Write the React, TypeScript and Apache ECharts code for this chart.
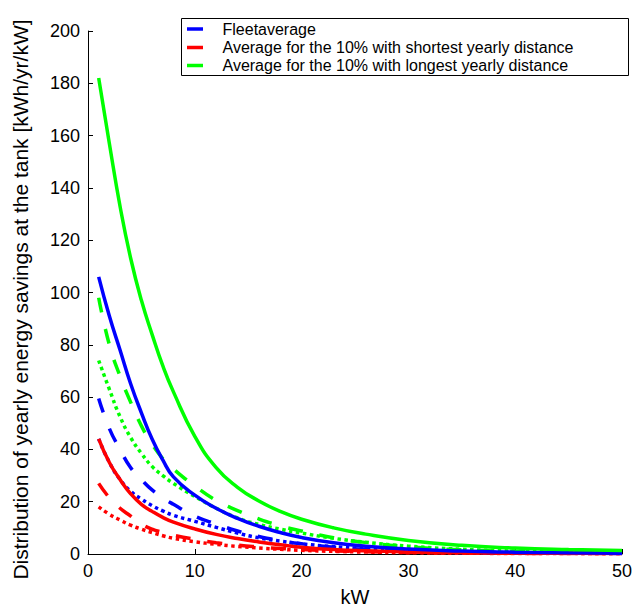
import React, { useEffect, useRef } from "react";
import * as echarts from "echarts";

const xs = [1, 2, 3, 4, 5, 6, 7, 8, 10, 12, 14, 16, 18, 20, 23, 26, 30, 35, 40, 45, 50];

const fleetSolid = [106, 91, 78, 65, 54, 44, 36, 29.5, 22.5, 17.5, 13.6, 10.6, 8.2, 6.3, 4.3, 3.0, 1.9, 1.1, 0.7, 0.45, 0.3];
const fleetDashed = [59.5, 48, 40, 33, 28.5, 24.5, 21.5, 19, 14.5, 11.5, 8.8, 6.7, 5.1, 3.9, 2.6, 1.8, 1.1, 0.6, 0.4, 0.3, 0.2];
const fleetDotted = [44, 35, 28.5, 24, 21, 18.5, 16.5, 14.8, 12.5, 10.2, 8.0, 6.2, 4.9, 3.9, 2.8, 2.0, 1.3, 0.8, 0.5, 0.35, 0.25];
const shortSolid = [44, 35, 28.5, 23, 19, 16.3, 14, 12.2, 9.6, 7.5, 5.9, 4.6, 3.5, 2.6, 1.7, 1.2, 0.8, 0.5, 0.35, 0.25, 0.2];
const shortDashed = [27, 21.5, 17.5, 14.5, 11.5, 9.5, 8.3, 7.2, 5.6, 4.3, 3.4, 2.7, 2.1, 1.7, 1.2, 0.9, 0.6, 0.4, 0.25, 0.2, 0.15];
const shortDotted = [18, 15.2, 13, 11, 9.5, 8.2, 7, 6, 4.7, 3.7, 2.9, 2.3, 1.8, 1.4, 1.0, 0.75, 0.5, 0.3, 0.2, 0.15, 0.1];
const longSolid = [182, 157, 133, 113, 97, 84, 72, 62, 45, 33, 25.5, 20.3, 16.3, 13.3, 10, 7.6, 5.2, 3.3, 2.3, 1.7, 1.3];
const longDashed = [98, 80, 68, 58, 49, 42, 36.5, 32.5, 26, 20.5, 16.6, 13.4, 10.8, 8.8, 6.2, 4.4, 2.8, 1.6, 1.0, 0.6, 0.4];
const longDotted = [74, 63, 52.5, 44.5, 38.5, 33.5, 30, 27, 22, 17.5, 13.8, 11.3, 9.5, 8, 6, 4.5, 3, 1.8, 1.1, 0.7, 0.5];

const legendNames = [
  "Fleetaverage",
  "Average for the 10% with shortest yearly distance",
  "Average for the 10% with longest yearly distance",
];
const colors = ["#0000ff", "#ff0000", "#00ff00"];

const FONT = "Liberation Sans, Arial, Helvetica, sans-serif";

export default function App() {
  const ref = useRef<HTMLDivElement>(null);
  useEffect(() => {
    if (!ref.current) return;
    const chart = echarts.init(ref.current, undefined, { renderer: "svg" });
    const DASH = [15, 17];
    const DOT = [3.5, 3.5];
    const mk = (name: string, vals: number[], color: string, dash: any) => ({
      name,
      type: "line",
      data: xs.map((x, i) => [x, vals[i]]),
      showSymbol: false,
      smooth: 0.5,
      lineStyle: { color, width: 3.5, type: dash, cap: "butt" },
      silent: true,
    });
    const series = [
      mk("fleetDotted", fleetDotted, colors[0], DOT),
      mk("shortDotted", shortDotted, colors[1], DOT),
      mk("longDotted", longDotted, colors[2], DOT),
      mk("fleetDashed", fleetDashed, colors[0], DASH),
      mk("shortDashed", shortDashed, colors[1], DASH),
      mk("longDashed", longDashed, colors[2], DASH),
      mk("shortSolid", shortSolid, colors[1], "solid"),
      mk("fleetSolid", fleetSolid, colors[0], "solid"),
      mk("longSolid", longSolid, colors[2], "solid"),
    ];
    const legendTop = 18;
    const rowY = [29, 47.5, 65.5];
    const graphic: any[] = [
      {
        type: "rect",
        shape: { x: 181.5, y: legendTop + 0.5, width: 447, height: 57 },
        style: { fill: "#fff", stroke: "#000", lineWidth: 1 },
        z: 100,
      },
    ];
    legendNames.forEach((n, i) => {
      graphic.push({
        type: "line",
        shape: { x1: 187, y1: rowY[i], x2: 203, y2: rowY[i] },
        style: { stroke: colors[i], lineWidth: 3.5 },
        z: 101,
      });
      graphic.push({
        type: "text",
        x: 222.5,
        y: rowY[i],
        style: {
          text: n,
          fill: "#000",
          font: `16px ${FONT}`,
          textVerticalAlign: "middle",
          verticalAlign: "middle",
        },
        z: 101,
      });
    });
    chart.setOption({
      animation: false,
      backgroundColor: "#fff",
      grid: { left: 88, right: 13, top: 31, bottom: 54, containLabel: false },
      xAxis: {
        type: "value",
        min: 0,
        max: 50,
        interval: 10,
        name: "kW",
        nameLocation: "middle",
        nameGap: 33,
        nameTextStyle: { fontSize: 20, color: "#000", fontFamily: FONT },
        axisLine: { show: true, onZero: false, lineStyle: { color: "#000", width: 1 } },
        axisTick: { show: true, inside: true, length: 5, lineStyle: { color: "#000" } },
        axisLabel: { fontSize: 18, color: "#000", fontFamily: FONT, margin: 8 },
        splitLine: { show: false },
      },
      yAxis: {
        type: "value",
        min: 0,
        max: 200,
        interval: 20,
        name: "Distribution of yearly energy savings at the tank [kWh/yr/kW]",
        nameLocation: "middle",
        nameGap: 57,
        nameTextStyle: { fontSize: 21, color: "#000", fontFamily: FONT, padding: [0, 14, 0, 0] },
        axisLine: { show: true, lineStyle: { color: "#000", width: 1 } },
        axisTick: { show: true, inside: true, length: 5, lineStyle: { color: "#000" } },
        axisLabel: { fontSize: 18, color: "#000", fontFamily: FONT, margin: 8 },
        splitLine: { show: false },
      },
      series,
      graphic,
    });
    return () => chart.dispose();
  }, []);
  return <div ref={ref} style={{ width: 635, height: 612, position: "absolute", left: 0, top: 0 }} />;
}
